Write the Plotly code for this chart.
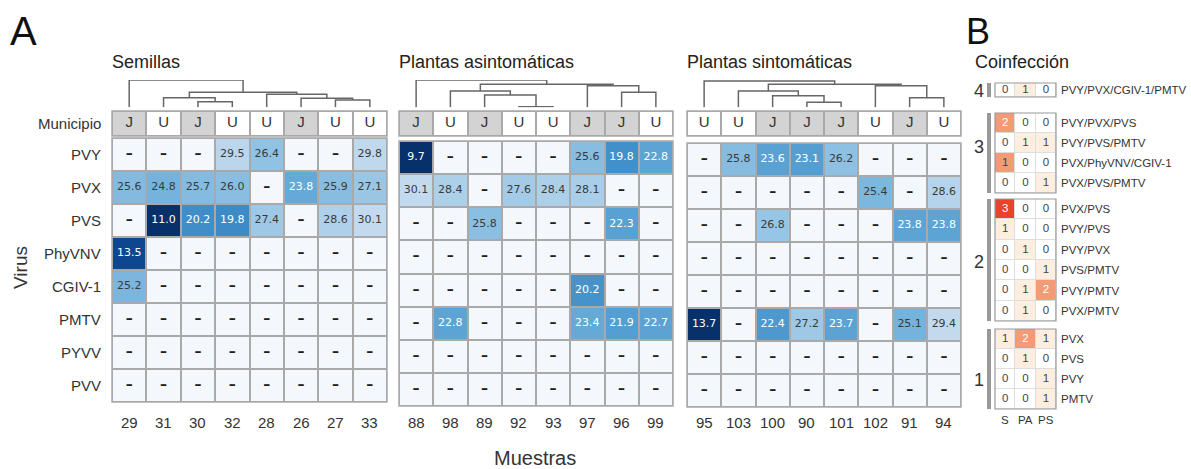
import plotly.graph_objects as go

W, H = 1191, 469
N = None

# ---------------- DATA ----------------
viruses = ["PVY", "PVX", "PVS", "PhyVNV", "CGIV-1", "PMTV", "PYVV", "PVV"]

semillas_samples = ["29", "31", "30", "32", "28", "26", "27", "33"]
semillas_municipio = ["J", "U", "J", "U", "U", "J", "U", "U"]
semillas_ct = [
    [N, N, N, 29.5, 26.4, N, N, 29.8],
    [25.6, 24.8, 25.7, 26.0, N, 23.8, 25.9, 27.1],
    [N, 11.0, 20.2, 19.8, 27.4, N, 28.6, 30.1],
    [13.5, N, N, N, N, N, N, N],
    [25.2, N, N, N, N, N, N, N],
    [N, N, N, N, N, N, N, N],
    [N, N, N, N, N, N, N, N],
    [N, N, N, N, N, N, N, N],
]
# dendrogram merges: (node_a, node_b, height); leaves are 0..7, merges 8..
semillas_links = [(2, 3, 17), (1, 8, 29), (6, 7, 22), (5, 10, 27), (4, 11, 39), (9, 12, 45), (0, 13, 82)]

asint_samples = ["88", "98", "89", "92", "93", "97", "96", "99"]
asint_municipio = ["J", "U", "J", "U", "U", "J", "J", "U"]
asint_ct = [
    [9.7, N, N, N, N, 25.6, 19.8, 22.8],
    [30.1, 28.4, N, 27.6, 28.4, 28.1, N, N],
    [N, N, 25.8, N, N, N, 22.3, N],
    [N, N, N, N, N, N, N, N],
    [N, N, N, N, N, 20.2, N, N],
    [N, 22.8, N, N, N, 23.4, 21.9, 22.7],
    [N, N, N, N, N, N, N, N],
    [N, N, N, N, N, N, N, N],
]
asint_links = [(3, 4, 2), (2, 8, 37), (1, 9, 49), (6, 7, 45), (5, 11, 65), (10, 12, 69), (0, 13, 82)]

sint_samples = ["95", "103", "100", "90", "101", "102", "91", "94"]
sint_municipio = ["U", "U", "J", "J", "J", "U", "J", "U"]
sint_ct = [
    [N, 25.8, 23.6, 23.1, 26.2, N, N, N],
    [N, N, N, N, N, 25.4, N, 28.6],
    [N, N, 26.8, N, N, N, 23.8, 23.8],
    [N, N, N, N, N, N, N, N],
    [N, N, N, N, N, N, N, N],
    [13.7, N, 22.4, 27.2, 23.7, N, 25.1, 29.4],
    [N, N, N, N, N, N, N, N],
    [N, N, N, N, N, N, N, N],
]
sint_links = [(3, 4, 15), (2, 8, 35), (1, 9, 49), (6, 7, 29), (5, 11, 65), (10, 12, 69), (0, 13, 79)]

panel_titles = ["Semillas", "Plantas asintomáticas", "Plantas sintomáticas"]

coinf_columns = ["S", "PA", "PS"]
coinf_groups = ["4", "3", "2", "1"]
coinf_labels = [
    ["PVY/PVX/CGIV-1/PMTV"],
    ["PVY/PVX/PVS", "PVY/PVS/PMTV", "PVX/PhyVNV/CGIV-1", "PVX/PVS/PMTV"],
    ["PVX/PVS", "PVY/PVS", "PVY/PVX", "PVS/PMTV", "PVY/PMTV", "PVX/PMTV"],
    ["PVX", "PVS", "PVY", "PMTV"],
]
coinf_counts = [
    [[0, 1, 0]],
    [[2, 0, 0], [0, 1, 1], [1, 0, 0], [0, 0, 1]],
    [[3, 0, 0], [1, 0, 0], [0, 1, 0], [0, 0, 1], [0, 1, 2], [0, 1, 0]],
    [[1, 2, 1], [0, 1, 0], [0, 0, 1], [0, 0, 1]],
]
# shade level used for colouring (same as counts except one highlighted cell)
coinf_shade_override = {(1, 2, 0): 2}

# ---------------- STYLE / LAYOUT ----------------
LABEL_FONT = "Liberation Sans, Arial, sans-serif"
CELL_FONT = "DejaVu Sans, sans-serif"
GRID = "#a9a9a9"
TXT = "#333333"

blues = [[0.0, "#08306b"], [0.15, "#0d4a94"], [0.45, "#3a8ac6"], [0.65, "#5ea5d5"],
         [0.80, "#8ec1e3"], [1.0, "#c3daee"]]
MISSING = "#f4f8fc"

panels_px = [  # heatmap x0, x1, y0, y1 (pixels)
    (112, 387, 138, 402),
    (399, 673, 141, 406),
    (687, 961, 143, 407),
]
MUNI_Y = (111, 136)
DEND_Y = (80, 107.3)
DEND_MAX = 82


def dx(a, b):
    return [a / W, b / W]


def dy(top, bottom):
    return [1 - bottom / H, 1 - top / H]


def dendro_xy(links, n=8):
    xs = {i: float(i) for i in range(n)}
    hs = {i: 0.0 for i in range(n)}
    X, Y = [], []
    for k, (a, b, h) in enumerate(links):
        X += [xs[a], xs[a], xs[b], xs[b], None]
        Y += [hs[a], h, h, hs[b], None]
        xs[n + k] = (xs[a] + xs[b]) / 2
        hs[n + k] = h
    return X, Y


fig = go.Figure()
layout = dict(width=W, height=H, margin=dict(l=0, r=0, t=0, b=0), autosize=False,
              paper_bgcolor="white", plot_bgcolor="rgba(0,0,0,0)", showlegend=False)
shapes, annotations = [], []

hidden = dict(visible=False, showgrid=False, zeroline=False, fixedrange=True)

datasets = [
    (semillas_samples, semillas_municipio, semillas_ct, semillas_links),
    (asint_samples, asint_municipio, asint_ct, asint_links),
    (sint_samples, sint_municipio, sint_ct, sint_links),
]

for p, (samples, muni, ct, links) in enumerate(datasets):
    x0, x1, y0, y1 = panels_px[p]
    ad, am, ah = 3 * p + 1, 3 * p + 2, 3 * p + 3
    for a, ydom in ((ad, DEND_Y), (am, MUNI_Y), (ah, (y0, y1))):
        layout[f"xaxis{a}"] = dict(hidden, domain=dx(x0, x1), range=[-0.5, 7.5], anchor=f"y{a}")
        layout[f"yaxis{a}"] = dict(hidden, domain=dy(*ydom), anchor=f"x{a}")
    layout[f"yaxis{ad}"]["range"] = [0, DEND_MAX]
    layout[f"yaxis{am}"]["range"] = [0.5, -0.5]
    layout[f"yaxis{ah}"]["range"] = [7.5, -0.5]

    # dendrogram
    X, Y = dendro_xy(links)
    fig.add_trace(go.Scatter(x=X, y=Y, mode="lines", line=dict(color="#666666", width=1.5),
                             xaxis=f"x{ad}", yaxis=f"y{ad}", hoverinfo="skip"))

    # municipio row
    cols = list(range(8))
    fig.add_trace(go.Heatmap(z=[[1 if m == "J" else 0 for m in muni]], x=cols, y=[0],
                             zmin=0, zmax=1, colorscale=[[0, "#ffffff"], [1, "#d3d3d3"]],
                             showscale=False, xgap=2, ygap=2, xaxis=f"x{am}", yaxis=f"y{am}",
                             hoverinfo="skip"))
    fig.add_trace(go.Scatter(x=cols, y=[0] * 8, text=muni, mode="text",
                             textfont=dict(family=LABEL_FONT, size=15, color=TXT),
                             xaxis=f"x{am}", yaxis=f"y{am}", hoverinfo="skip"))

    # heatmap
    vals = [v for row in ct for v in row if v is not None]
    vmin, vmax = min(vals), max(vals)
    miss = [[1 if v is None else None for v in row] for row in ct]
    fig.add_trace(go.Heatmap(z=miss, x=cols, y=list(range(8)), zmin=0, zmax=1,
                             colorscale=[[0, MISSING], [1, MISSING]], showscale=False,
                             xgap=2, ygap=2, xaxis=f"x{ah}", yaxis=f"y{ah}", hoverinfo="skip"))
    fig.add_trace(go.Heatmap(z=ct, x=cols, y=list(range(8)), zmin=vmin, zmax=vmax,
                             colorscale=blues, showscale=False, xgap=2, ygap=2,
                             xaxis=f"x{ah}", yaxis=f"y{ah}", hoverinfo="skip"))
    tx, ty, tt, tc, ts = [], [], [], [], []
    for r, row in enumerate(ct):
        for c, v in enumerate(row):
            tx.append(c)
            ty.append(r)
            if v is None:
                tt.append("<b>–</b>")
                tc.append("#1e1e1e")
                ts.append(14)
            else:
                tt.append(f"{v:.1f}")
                tc.append("white" if (v - vmin) / (vmax - vmin) < 0.7 else "#3a3a3a")
                ts.append(11)
    fig.add_trace(go.Scatter(x=tx, y=ty, text=tt, mode="text",
                             textfont=dict(family=CELL_FONT, size=ts, color=tc),
                             xaxis=f"x{ah}", yaxis=f"y{ah}", hoverinfo="skip"))

    for a in (am, ah):
        shapes.append(dict(type="rect", xref=f"x{a} domain", yref=f"y{a} domain",
                           x0=0, x1=1, y0=0, y1=1, fillcolor=GRID, line=dict(width=0), layer="below"))
        shapes.append(dict(type="rect", xref=f"x{a} domain", yref=f"y{a} domain",
                           x0=0, x1=1, y0=0, y1=1, line=dict(color=GRID, width=1.5), layer="above"))

    for c, s in enumerate(samples):
        annotations.append(dict(text=s, xref=f"x{ah}", x=c, yref="paper", y=1 - 422 / H,
                                showarrow=False, xanchor="center", yanchor="middle",
                                font=dict(family=LABEL_FONT, size=15, color=TXT)))
    annotations.append(dict(text=panel_titles[p], xref="paper", x=(x0 - 2) / W, yref="paper",
                            y=1 - 62 / H, showarrow=False, xanchor="left", yanchor="middle",
                            font=dict(family=LABEL_FONT, size=18, color="#222222")))

# row labels for panel A
for r, v in enumerate(viruses):
    annotations.append(dict(text=v, xref="paper", x=103 / W, yref="y3", y=r, showarrow=False,
                            xanchor="right", yanchor="middle",
                            font=dict(family=LABEL_FONT, size=15, color=TXT)))
annotations.append(dict(text="Municipio", xref="paper", x=103 / W, yref="paper", y=1 - 123.5 / H,
                        showarrow=False, xanchor="right", yanchor="middle",
                        font=dict(family=LABEL_FONT, size=15, color=TXT)))
annotations.append(dict(text="Virus", xref="paper", x=20 / W, yref="paper", y=1 - 268 / H,
                        showarrow=False, textangle=-90, xanchor="center", yanchor="middle",
                        font=dict(family=LABEL_FONT, size=19, color=TXT)))
annotations.append(dict(text="Muestras", xref="paper", x=535 / W, yref="paper", y=1 - 458 / H,
                        showarrow=False, xanchor="center", yanchor="middle",
                        font=dict(family=LABEL_FONT, size=20, color=TXT)))
annotations.append(dict(text="A", xref="paper", x=8 / W, yref="paper", y=1 - 31 / H,
                        showarrow=False, xanchor="left", yanchor="middle",
                        font=dict(family=LABEL_FONT, size=40, color="#111111")))
annotations.append(dict(text="B", xref="paper", x=964 / W, yref="paper", y=1 - 32 / H,
                        showarrow=False, xanchor="left", yanchor="middle",
                        font=dict(family=LABEL_FONT, size=36, color="#111111")))
annotations.append(dict(text="Coinfección", xref="paper", x=973 / W, yref="paper", y=1 - 62 / H,
                        showarrow=False, xanchor="left", yanchor="middle",
                        font=dict(family=LABEL_FONT, size=18, color="#222222")))

# ---------------- PANEL B ----------------
B_X = (995, 1056)
B_GROUP_Y = [(83, 97), (113, 193), (199, 321), (329, 409)]
B_NUM_Y = [90.5, 147, 262, 380]
orange = [[0.0, "#ffffff"], [1 / 3, "#fdeedf"], [2 / 3, "#f29b76"], [1.0, "#e8432d"]]

for g, (labels, counts) in enumerate(zip(coinf_labels, coinf_counts)):
    a = 10 + g
    ytop, ybot = B_GROUP_Y[g]
    n = len(labels)
    layout[f"xaxis{a}"] = dict(hidden, domain=dx(*B_X), range=[-0.5, 2.5], anchor=f"y{a}")
    layout[f"yaxis{a}"] = dict(hidden, domain=dy(ytop, ybot), range=[n - 0.5, -0.5], anchor=f"x{a}")
    shade = [[coinf_shade_override.get((g, r, c), v) for c, v in enumerate(row)]
             for r, row in enumerate(counts)]
    fig.add_trace(go.Heatmap(z=shade, x=[0, 1, 2], y=list(range(n)), zmin=0, zmax=3,
                             colorscale=orange, showscale=False, xgap=1, ygap=1,
                             xaxis=f"x{a}", yaxis=f"y{a}", hoverinfo="skip"))
    tx, ty, tt, tc = [], [], [], []
    for r, row in enumerate(counts):
        for c, v in enumerate(row):
            tx.append(c)
            ty.append(r)
            tt.append(str(v))
            tc.append("white" if v >= 2 else "#444444")
    fig.add_trace(go.Scatter(x=tx, y=ty, text=tt, mode="text",
                             textfont=dict(family=LABEL_FONT, size=11.5, color=tc),
                             xaxis=f"x{a}", yaxis=f"y{a}", hoverinfo="skip"))
    shapes.append(dict(type="rect", xref=f"x{a} domain", yref=f"y{a} domain", x0=0, x1=1, y0=0, y1=1,
                       fillcolor="#dedede", line=dict(width=0), layer="below"))
    shapes.append(dict(type="rect", xref=f"x{a} domain", yref=f"y{a} domain", x0=0, x1=1, y0=0, y1=1,
                       line=dict(color="#9a9a9a", width=1.2), layer="above"))
    shapes.append(dict(type="rect", xref="paper", yref=f"y{a} domain", x0=987 / W, x1=991 / W,
                       y0=0, y1=1, fillcolor="#999999", line=dict(width=0)))
    for r, lab in enumerate(labels):
        annotations.append(dict(text=lab, xref="paper", x=1059 / W, yref=f"y{a}", y=r,
                                showarrow=False, xanchor="left", yanchor="middle",
                                font=dict(family=LABEL_FONT, size=11.5, color=TXT)))
    annotations.append(dict(text=coinf_groups[g], xref="paper", x=979 / W, yref="paper",
                            y=1 - B_NUM_Y[g] / H, showarrow=False, xanchor="center",
                            yanchor="middle", font=dict(family=LABEL_FONT, size=18, color=TXT)))

for c, lab in enumerate(coinf_columns):
    annotations.append(dict(text=lab, xref="x13", x=c, yref="paper", y=1 - 419.5 / H,
                            showarrow=False, xanchor="center", yanchor="middle",
                            font=dict(family=LABEL_FONT, size=11.5, color=TXT)))

layout["shapes"] = shapes
layout["annotations"] = annotations
fig.update_layout(**layout)
fig.write_html(
    "out.html",
    config={"displayModeBar": False},
    post_script="document.body.style.margin='0';document.body.style.padding='0';"
                "document.body.style.overflow='hidden';",
)
